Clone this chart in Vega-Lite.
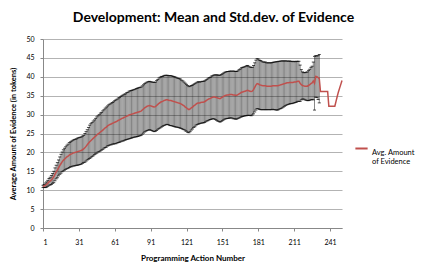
{
  "$schema": "https://vega.github.io/schema/vega-lite/v6.json",
  "autosize": {"type": "none"},
  "width": 299,
  "height": 189,
  "padding": {"left": 43, "top": 39, "right": 86, "bottom": 40},
  "background": "white",
  "config": {
    "font": "Lato",
    "view": {"stroke": null}
  },
  "title": {
    "text": "Development: Mean and Std.dev. of Evidence",
    "font": "Lato",
    "fontSize": 14,
    "fontWeight": "bold",
    "color": "#000000",
    "anchor": "middle",
    "dx": 21,
    "offset": 10
  },
  "data": {
    "values": [
      {"x":1,"m":11.0,"s":0.3},{"x":2,"m":11.1,"s":0.4},{"x":3,"m":11.3,"s":0.6},{"x":4,"m":11.5,"s":0.7},{"x":5,"m":11.8,"s":0.8},
      {"x":6,"m":12.2,"s":0.9},{"x":7,"m":12.4,"s":1.0},{"x":8,"m":12.7,"s":1.2},{"x":9,"m":13.1,"s":1.3},{"x":10,"m":13.5,"s":1.5},
      {"x":11,"m":14.2,"s":1.7},{"x":12,"m":14.8,"s":1.8},{"x":13,"m":15.3,"s":2.0},{"x":14,"m":15.9,"s":2.1},{"x":15,"m":16.5,"s":2.3},
      {"x":16,"m":17.0,"s":2.5},{"x":17,"m":17.5,"s":2.6},{"x":18,"m":17.9,"s":2.8},{"x":19,"m":18.2,"s":2.9},{"x":20,"m":18.5,"s":3.0},
      {"x":21,"m":18.8,"s":3.1},{"x":22,"m":19.0,"s":3.2},{"x":23,"m":19.3,"s":3.3},{"x":24,"m":19.5,"s":3.3},{"x":25,"m":19.6,"s":3.4},
      {"x":26,"m":19.8,"s":3.4},{"x":27,"m":19.9,"s":3.5},{"x":28,"m":20.0,"s":3.5},{"x":29,"m":20.1,"s":3.5},{"x":30,"m":20.2,"s":3.6},
      {"x":31,"m":20.3,"s":3.6},{"x":32,"m":20.4,"s":3.6},{"x":33,"m":20.5,"s":3.6},{"x":34,"m":20.7,"s":3.6},{"x":35,"m":20.9,"s":3.6},
      {"x":36,"m":21.2,"s":3.8},{"x":37,"m":21.6,"s":3.9},{"x":38,"m":22.0,"s":4.0},{"x":39,"m":22.4,"s":4.2},{"x":40,"m":22.8,"s":4.4},
      {"x":41,"m":23.1,"s":4.5},{"x":42,"m":23.4,"s":4.5},{"x":43,"m":23.7,"s":4.6},{"x":44,"m":24.0,"s":4.6},{"x":45,"m":24.3,"s":4.7},
      {"x":46,"m":24.6,"s":4.8},{"x":47,"m":24.9,"s":4.8},{"x":48,"m":25.1,"s":4.9},{"x":49,"m":25.4,"s":5.0},{"x":50,"m":25.6,"s":5.0},
      {"x":51,"m":25.9,"s":5.1},{"x":52,"m":26.2,"s":5.1},{"x":53,"m":26.5,"s":5.2},{"x":54,"m":26.7,"s":5.3},{"x":55,"m":27.0,"s":5.3},
      {"x":56,"m":27.2,"s":5.4},{"x":57,"m":27.4,"s":5.4},{"x":58,"m":27.5,"s":5.5},{"x":59,"m":27.7,"s":5.5},{"x":60,"m":27.8,"s":5.6},
      {"x":61,"m":28.0,"s":5.7},{"x":62,"m":28.1,"s":5.8},{"x":63,"m":28.3,"s":5.8},{"x":64,"m":28.5,"s":5.9},{"x":65,"m":28.6,"s":5.9},
      {"x":66,"m":28.8,"s":6.0},{"x":67,"m":29.0,"s":6.0},{"x":68,"m":29.1,"s":6.1},{"x":69,"m":29.3,"s":6.1},{"x":70,"m":29.4,"s":6.1},
      {"x":71,"m":29.6,"s":6.2},{"x":72,"m":29.7,"s":6.2},{"x":73,"m":29.9,"s":6.3},{"x":74,"m":30.0,"s":6.3},{"x":75,"m":30.1,"s":6.3},
      {"x":76,"m":30.2,"s":6.3},{"x":77,"m":30.3,"s":6.3},{"x":78,"m":30.4,"s":6.3},{"x":79,"m":30.5,"s":6.4},{"x":80,"m":30.6,"s":6.4},
      {"x":81,"m":30.7,"s":6.4},{"x":82,"m":30.8,"s":6.4},{"x":83,"m":30.9,"s":6.4},{"x":84,"m":31.2,"s":6.4},{"x":85,"m":31.5,"s":6.4},
      {"x":86,"m":31.8,"s":6.4},{"x":87,"m":32.0,"s":6.4},{"x":88,"m":32.2,"s":6.4},{"x":89,"m":32.3,"s":6.4},{"x":90,"m":32.4,"s":6.4},
      {"x":91,"m":32.3,"s":6.4},{"x":92,"m":32.2,"s":6.4},{"x":93,"m":32.1,"s":6.5},{"x":94,"m":32.0,"s":6.5},{"x":95,"m":32.1,"s":6.5},
      {"x":96,"m":32.4,"s":6.6},{"x":97,"m":32.7,"s":6.6},{"x":98,"m":33.0,"s":6.7},{"x":99,"m":33.2,"s":6.7},{"x":100,"m":33.4,"s":6.7},
      {"x":101,"m":33.5,"s":6.6},{"x":102,"m":33.7,"s":6.6},{"x":103,"m":33.8,"s":6.6},{"x":104,"m":33.9,"s":6.5},{"x":105,"m":33.9,"s":6.5},
      {"x":106,"m":33.8,"s":6.5},{"x":107,"m":33.7,"s":6.6},{"x":108,"m":33.7,"s":6.6},{"x":109,"m":33.6,"s":6.6},{"x":110,"m":33.5,"s":6.6},
      {"x":111,"m":33.4,"s":6.6},{"x":112,"m":33.3,"s":6.6},{"x":113,"m":33.2,"s":6.5},{"x":114,"m":33.1,"s":6.5},{"x":115,"m":33.0,"s":6.5},
      {"x":116,"m":32.9,"s":6.5},{"x":117,"m":32.7,"s":6.4},{"x":118,"m":32.5,"s":6.4},{"x":119,"m":32.3,"s":6.3},{"x":120,"m":32.0,"s":6.3},
      {"x":121,"m":31.8,"s":6.2},{"x":122,"m":31.5,"s":6.2},{"x":123,"m":31.3,"s":6.1},{"x":124,"m":31.5,"s":6.0},{"x":125,"m":31.8,"s":5.9},
      {"x":126,"m":32.0,"s":5.8},{"x":127,"m":32.3,"s":5.7},{"x":128,"m":32.5,"s":5.7},{"x":129,"m":32.8,"s":5.6},{"x":130,"m":33.0,"s":5.6},
      {"x":131,"m":33.1,"s":5.6},{"x":132,"m":33.1,"s":5.5},{"x":133,"m":33.2,"s":5.5},{"x":134,"m":33.3,"s":5.5},{"x":135,"m":33.3,"s":5.5},
      {"x":136,"m":33.4,"s":5.5},{"x":137,"m":33.6,"s":5.5},{"x":138,"m":33.8,"s":5.5},{"x":139,"m":34.0,"s":5.6},{"x":140,"m":34.2,"s":5.6},
      {"x":141,"m":34.3,"s":5.6},{"x":142,"m":34.5,"s":5.7},{"x":143,"m":34.6,"s":5.7},{"x":144,"m":34.7,"s":5.8},{"x":145,"m":34.6,"s":5.9},
      {"x":146,"m":34.5,"s":6.0},{"x":147,"m":34.4,"s":6.1},{"x":148,"m":34.3,"s":6.1},{"x":149,"m":34.2,"s":6.2},{"x":150,"m":34.4,"s":6.2},
      {"x":151,"m":34.6,"s":6.2},{"x":152,"m":34.8,"s":6.2},{"x":153,"m":35.0,"s":6.2},{"x":154,"m":35.1,"s":6.2},{"x":155,"m":35.2,"s":6.2},
      {"x":156,"m":35.2,"s":6.2},{"x":157,"m":35.3,"s":6.2},{"x":158,"m":35.3,"s":6.2},{"x":159,"m":35.3,"s":6.2},{"x":160,"m":35.2,"s":6.3},
      {"x":161,"m":35.2,"s":6.3},{"x":162,"m":35.1,"s":6.3},{"x":163,"m":35.1,"s":6.3},{"x":164,"m":35.3,"s":6.3},{"x":165,"m":35.5,"s":6.4},
      {"x":166,"m":35.7,"s":6.4},{"x":167,"m":35.9,"s":6.5},{"x":168,"m":36.0,"s":6.5},{"x":169,"m":36.1,"s":6.5},{"x":170,"m":36.2,"s":6.5},
      {"x":171,"m":36.3,"s":6.6},{"x":172,"m":36.4,"s":6.6},{"x":173,"m":36.3,"s":6.5},{"x":174,"m":36.2,"s":6.4},{"x":175,"m":36.1,"s":6.4},
      {"x":176,"m":36.2,"s":6.3},{"x":177,"m":36.6,"s":6.4},{"x":178,"m":37.2,"s":6.5},{"x":179,"m":37.8,"s":6.6},{"x":180,"m":38.2,"s":6.6},
      {"x":181,"m":38.1,"s":6.6},{"x":182,"m":37.9,"s":6.5},{"x":183,"m":37.8,"s":6.5},{"x":184,"m":37.7,"s":6.4},{"x":185,"m":37.6,"s":6.3},
      {"x":186,"m":37.6,"s":6.3},{"x":187,"m":37.6,"s":6.3},{"x":188,"m":37.5,"s":6.2},{"x":189,"m":37.5,"s":6.2},{"x":190,"m":37.5,"s":6.2},
      {"x":191,"m":37.5,"s":6.2},{"x":192,"m":37.5,"s":6.2},{"x":193,"m":37.6,"s":6.2},{"x":194,"m":37.6,"s":6.3},{"x":195,"m":37.6,"s":6.3},
      {"x":196,"m":37.6,"s":6.4},{"x":197,"m":37.6,"s":6.4},{"x":198,"m":37.7,"s":6.4},{"x":199,"m":37.8,"s":6.3},{"x":200,"m":37.9,"s":6.3},
      {"x":201,"m":38.0,"s":6.2},{"x":202,"m":38.1,"s":6.1},{"x":203,"m":38.2,"s":6.0},{"x":204,"m":38.3,"s":5.9},{"x":205,"m":38.4,"s":5.8},
      {"x":206,"m":38.4,"s":5.7},{"x":207,"m":38.5,"s":5.7},{"x":208,"m":38.5,"s":5.6},{"x":209,"m":38.5,"s":5.6},{"x":210,"m":38.5,"s":5.5},
      {"x":211,"m":38.6,"s":5.5},{"x":212,"m":38.6,"s":5.4},{"x":213,"m":38.7,"s":5.4},{"x":214,"m":38.8,"s":5.3},{"x":215,"m":38.8,"s":5.3},
      {"x":216,"m":38.3,"s":4.8},{"x":217,"m":37.9,"s":4.0},{"x":218,"m":37.7,"s":3.6},{"x":219,"m":37.6,"s":3.5},{"x":220,"m":37.5,"s":3.6},
      {"x":221,"m":37.5,"s":3.7},{"x":222,"m":37.5,"s":3.8},{"x":223,"m":37.7,"s":4.0},{"x":224,"m":37.9,"s":4.1},{"x":225,"m":38.2,"s":4.3},
      {"x":226,"m":38.4,"s":4.4},{"x":227,"m":38.9,"s":5.0},{"x":228,"m":38.3,"s":7.1},{"x":229,"m":40.1,"s":5.5},{"x":230,"m":40.0,"s":5.5},
      {"x":231,"m":39.8,"s":5.8},{"x":232,"m":39.5,"s":6.4},{"x":233,"m":36.1},{"x":234,"m":36.1},{"x":235,"m":36.1},
      {"x":236,"m":36.1},{"x":237,"m":36.1},{"x":238,"m":36.1},{"x":239,"m":36.1},{"x":240,"m":32.2},
      {"x":241,"m":32.2},{"x":242,"m":32.2},{"x":243,"m":32.2},{"x":244,"m":32.2},{"x":245,"m":32.2},
      {"x":246,"m":33.5},{"x":247,"m":34.8},{"x":248,"m":36.0},{"x":249,"m":37.0},{"x":250,"m":38.0},{"x":251,"m":39.0}
    ]
  },
  "encoding": {
    "x": {
      "field": "x",
      "type": "quantitative",
      "scale": {"domain": [1, 251], "nice": false, "zero": false},
      "axis": {
        "title": "Programming Action Number",
        "titleFont": "Lato",
        "titleFontSize": 8,
        "titleFontWeight": "bold",
        "titleColor": "#000000",
        "titlePadding": 9,
        "values": [1, 31, 61, 91, 121, 151, 181, 211, 241],
        "labelFont": "Lato",
        "labelFontSize": 7,
        "labelColor": "#000000",
        "labelPadding": 7,
        "tickSize": 3,
        "tickColor": "#888888",
        "domainColor": "#888888",
        "grid": false
      }
    },
    "y": {
      "field": "m",
      "type": "quantitative",
      "scale": {"domain": [0, 50], "nice": false},
      "axis": {
        "title": "Average Amount of Evidence (in tokens)",
        "titleFont": "Lato",
        "titleFontSize": 7.5,
        "titleFontWeight": "bold",
        "titleColor": "#000000",
        "titlePadding": 8,
        "values": [0, 5, 10, 15, 20, 25, 30, 35, 40, 45, 50],
        "labelFont": "Lato",
        "labelFontSize": 7,
        "labelColor": "#000000",
        "labelPadding": 6,
        "tickSize": 3,
        "tickColor": "#888888",
        "domainColor": "#888888",
        "grid": true,
        "gridColor": "#b3b3b3",
        "gridWidth": 1
      }
    }
  },
  "layer": [
    {
      "transform": [{"filter": "isValid(datum.s)"}],
      "mark": {
        "type": "errorbar",
        "rule": {"color": "#000000", "strokeWidth": 0.6, "opacity": 0.8},
        "ticks": {"color": "#000000", "size": 3, "strokeWidth": 0.8}
      },
      "encoding": {
        "yError": {"field": "s"}
      }
    },
    {
      "mark": {"type": "line", "strokeWidth": 1.5},
      "encoding": {
        "color": {
          "datum": "Avg. Amount of Evidence",
          "type": "nominal",
          "scale": {"range": ["#c0504d"]},
          "legend": {
            "title": null,
            "orient": "none",
            "legendX": 311,
            "legendY": 102,
            "symbolType": "stroke",
            "symbolStrokeWidth": 2,
            "symbolSize": 150,
            "labelFont": "Lato",
            "labelFontSize": 7.5,
            "labelColor": "#000000",
            "labelExpr": "['Avg. Amount', 'of Evidence']",
            "labelBaseline": "top",
            "labelOffset": 3
          }
        }
      }
    }
  ]
}
